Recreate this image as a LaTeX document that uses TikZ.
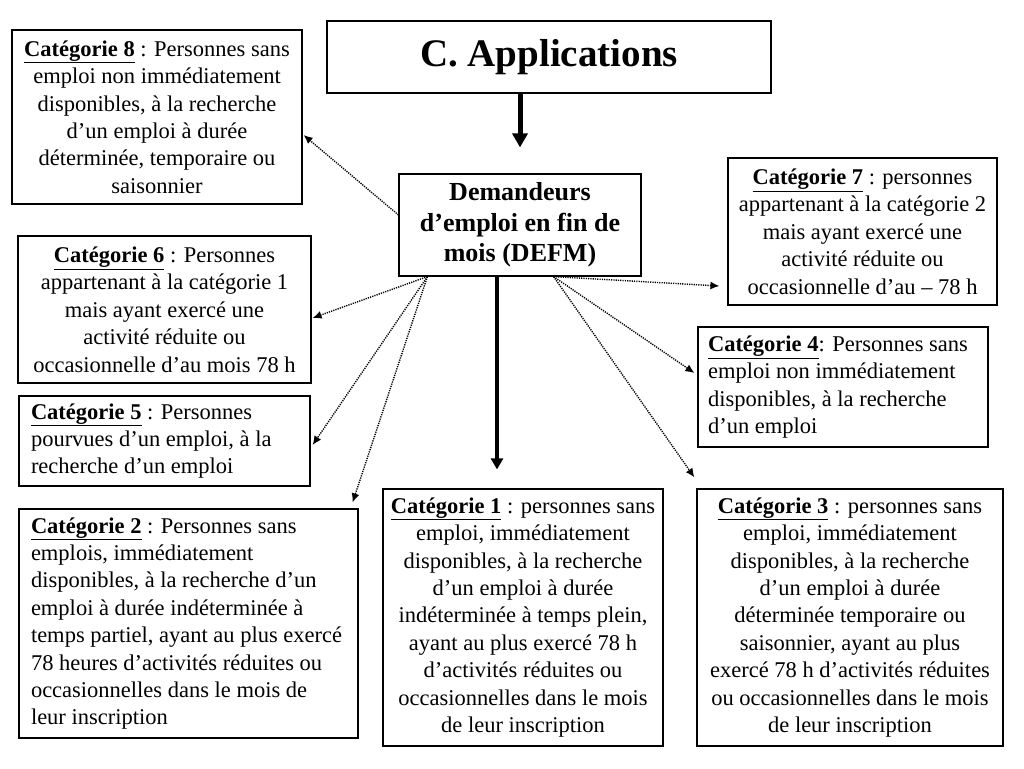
\documentclass[tikz,border=0pt]{standalone}
\usepackage{fontspec}
\setmainfont{Liberation Serif}
\usetikzlibrary{arrows.meta}
\newcommand\catlab[1]{\textbf{\underline{Catégorie #1}}}
\newcommand\lefttext[2]{\makebox[#1][l]{\begin{tabular}{@{}l@{}}#2\end{tabular}}}
\begin{document}
\begin{tikzpicture}[x=1pt,y=-1pt,
  box/.style={draw=black,line width=1.2pt,inner sep=0pt,font=\fontsize{22.5}{27.4}\selectfont},
  cbox/.style={box,align=center},
  bigarrow/.style={line width=5pt,-{Triangle[width=15pt,length=14pt]}},
  midarrow/.style={line width=3.5pt,-{Triangle[width=12pt,length=11pt]}},
  dotarrow/.style={line width=1.4pt,dash pattern=on 1.2pt off 1.1pt,-{Latex[length=9pt,width=8pt]}}]
\fill[white] (0,0) rectangle (1024,768);
\useasboundingbox (0,0) rectangle (1024,768);

\node[box,minimum width=444,minimum height=72,font=\fontsize{39}{45}\bfseries\selectfont] (title) at (549,57) {C. Applications};

\node[cbox,minimum width=242,minimum height=102,font=\fontsize{26}{30.5}\bfseries\selectfont] (defm) at (520,225) {Demandeurs\\d’emploi en fin de\\mois (DEFM)};

\node[cbox,minimum width=290,minimum height=174] (c8) at (157,117) {\catlab{8} : Personnes sans\\emploi non immédiatement\\disponibles, à la recherche\\d’un emploi à durée\\déterminée, temporaire ou\\saisonnier};

\node[cbox,minimum width=269,minimum height=147] (c7) at (862.5,231.5) {\catlab{7} : personnes\\appartenant à la catégorie 2\\mais ayant exercé une\\activité réduite ou\\occasionnelle d’au – 78 h};

\node[cbox,minimum width=293,minimum height=147] (c6) at (164.5,309.5) {\catlab{6} : Personnes\\appartenant à la catégorie 1\\mais ayant exercé une\\activité réduite ou\\occasionnelle d’au mois 78 h};

\node[box,minimum width=290,minimum height=120] (c4) at (843,387) {\lefttext{270pt}{\catlab{4}: Personnes sans\\emploi non immédiatement\\disponibles, à la recherche\\d’un emploi}};

\node[box,minimum width=291,minimum height=90] (c5) at (164.5,441) {\lefttext{267pt}{\catlab{5} : Personnes\\pourvues d’un emploi, à la\\recherche d’un emploi}};

\node[box,minimum width=339,minimum height=229] (c2) at (188.5,623.5) {\lefttext{315pt}{\catlab{2} : Personnes sans\\emplois, immédiatement\\disponibles, à la recherche d’un\\emploi à durée indéterminée à\\temps partiel, ayant au plus exercé\\78 heures d’activités réduites ou\\occasionnelles dans le mois de\\leur inscription}};

\node[cbox,minimum width=280,minimum height=257] (c1) at (523,617.5) {\catlab{1} : personnes sans\\emploi, immédiatement\\disponibles, à la recherche\\d’un emploi à durée\\indéterminée à temps plein,\\ayant au plus exercé 78 h\\d’activités réduites ou\\occasionnelles dans le mois\\de leur inscription};

\node[cbox,minimum width=306,minimum height=257] (c3) at (850,617.5) {\catlab{3} : personnes sans\\emploi, immédiatement\\disponibles, à la recherche\\d’un emploi à durée\\déterminée temporaire ou\\saisonnier, ayant au plus\\exercé 78 h d’activités réduites\\ou occasionnelles dans le mois\\de leur inscription};

% solid arrows
\draw[bigarrow] (defm.north |- title.south) -- ([yshift=26pt]defm.north);
\draw[midarrow] ([xshift=-23pt]defm.south) -- ([xshift=-26pt,yshift=19pt]c1.north);

% dotted arrows
\draw[dotarrow] ([yshift=10pt]defm.west) -- ([xshift=1pt,yshift=-18pt]c8.east);
\draw[dotarrow] ([xshift=29pt]defm.south west) -- ([xshift=1pt,yshift=-8.5pt]c6.east);
\draw[dotarrow] ([xshift=29pt]defm.south west) -- ([xshift=2pt,yshift=-4pt]c5.east);
\draw[dotarrow] ([xshift=29pt]defm.south west) -- ([xshift=-6pt,yshift=6pt]c2.north east);
\draw[dotarrow] ([xshift=-88pt]defm.south east) -- ([xshift=-8pt,yshift=-54.5pt]c7.west);
\draw[dotarrow] ([xshift=-88pt]defm.south east) -- ([xshift=-3pt,yshift=14pt]c4.west);
\draw[dotarrow] ([xshift=-88pt]defm.south east) -- ([xshift=-2pt,yshift=11pt]c3.north west);
\end{tikzpicture}
\end{document}
